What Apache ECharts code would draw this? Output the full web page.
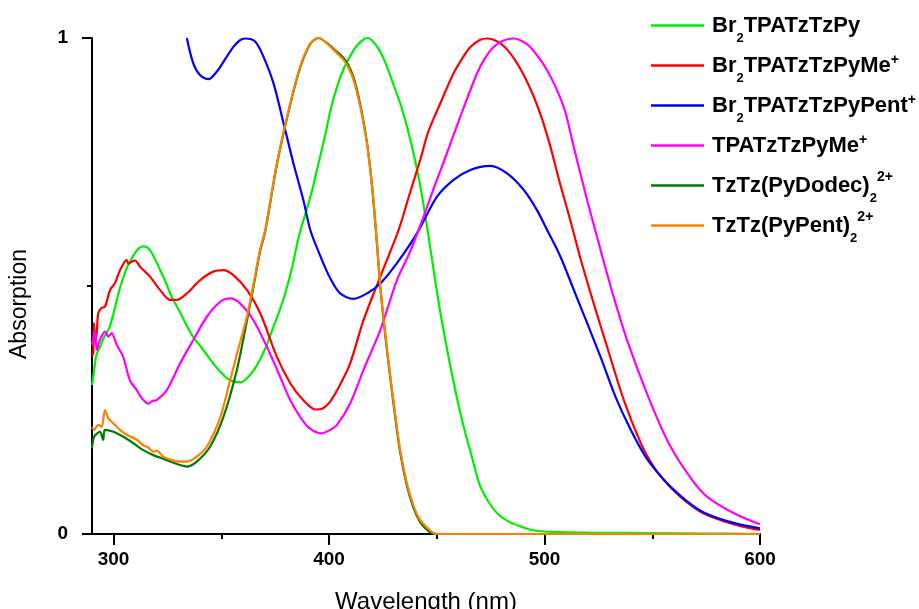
<!DOCTYPE html>
<html>
<head>
<meta charset="utf-8">
<script src="https://cdn.jsdelivr.net/npm/echarts@6/dist/echarts.min.js"></script>
<style>
html, body { margin: 0; padding: 0; background: #fff; }
#chart { width: 919px; height: 609px; }
</style>
</head>
<body>
<div id="chart"></div>
<script>
// Br2TPATzTzPy
var gWl  = [290, 291, 292, 294, 296, 298, 300, 302, 304, 306, 308, 310, 312, 314, 316, 318, 321, 324, 327, 331, 334, 337, 341, 344, 347, 350, 353, 356, 359, 362, 365, 368, 371, 374, 377, 380, 383, 386, 389, 392, 395, 398, 401, 404, 407, 410, 413, 416, 418, 420, 423, 426, 430, 434, 438, 442, 446, 450, 454, 458, 462, 466, 470, 474, 478, 483, 489, 494, 500, 520, 550, 575, 600];
var gAbs = [0.30, 0.33, 0.36, 0.38, 0.40, 0.415, 0.445, 0.48, 0.51, 0.535, 0.552, 0.567, 0.577, 0.58, 0.577, 0.565, 0.538, 0.51, 0.478, 0.446, 0.42, 0.397, 0.375, 0.357, 0.34, 0.325, 0.313, 0.307, 0.306, 0.314, 0.33, 0.352, 0.38, 0.415, 0.45, 0.49, 0.54, 0.6, 0.645, 0.69, 0.745, 0.8, 0.86, 0.905, 0.94, 0.965, 0.985, 0.997, 1.0, 0.995, 0.978, 0.952, 0.905, 0.855, 0.79, 0.71, 0.605, 0.49, 0.39, 0.302, 0.225, 0.16, 0.098, 0.065, 0.042, 0.026, 0.015, 0.008, 0.005, 0.003, 0.002, 0.001, 0];

// Br2TPATzTzPyMe+
var rWl  = [290, 290.6, 290.9, 291.5, 292.2, 292.9, 294.5, 296, 298.4, 300.7, 303, 306.1, 307, 308.4, 310, 312.3, 316.9, 321.6, 326.2, 329.3, 334, 340.2, 346.3, 351, 355.6, 361.9, 368.1, 375.8, 382, 388, 393.6, 397, 400.5, 405, 409.8, 416, 423.8, 432.3, 437, 442.3, 446, 451.6, 457.8, 462, 465.6, 470, 473.3, 476, 479.5, 483, 487.3, 491, 495, 499, 502.7, 507, 512, 516.7, 522.8, 529, 536.8, 545, 550, 555.3, 563.1, 572.4, 581.7, 591, 600];
var rAbs = [0.36, 0.364, 0.425, 0.39, 0.405, 0.445, 0.456, 0.458, 0.492, 0.506, 0.532, 0.552, 0.545, 0.549, 0.551, 0.539, 0.519, 0.492, 0.472, 0.472, 0.485, 0.512, 0.529, 0.532, 0.522, 0.492, 0.445, 0.357, 0.304, 0.27, 0.251, 0.253, 0.267, 0.30, 0.344, 0.431, 0.519, 0.613, 0.68, 0.754, 0.81, 0.868, 0.929, 0.96, 0.982, 0.996, 0.999, 0.997, 0.989, 0.975, 0.949, 0.92, 0.882, 0.835, 0.781, 0.71, 0.632, 0.555, 0.465, 0.378, 0.27, 0.18, 0.14, 0.109, 0.075, 0.045, 0.028, 0.016, 0.008];

// Br2TPATzTzPyPent+
var bWl  = [334, 337, 340.2, 344, 347.9, 351, 355.6, 358.5, 361.1, 365.7, 369.6, 374.2, 378.9, 383.5, 388.1, 391.3, 396, 400.5, 405.2, 411.4, 417.6, 423.8, 431.5, 440.8, 450.1, 457.8, 465.6, 474.9, 482.6, 490.3, 496.5, 501.2, 507.4, 513.6, 519.8, 526, 532.9, 540, 547, 555.3, 563.1, 572.4, 581.7, 591, 600];
var bAbs = [1.0, 0.949, 0.925, 0.917, 0.932, 0.952, 0.982, 0.995, 0.999, 0.993, 0.962, 0.909, 0.828, 0.747, 0.673, 0.613, 0.56, 0.516, 0.485, 0.474, 0.485, 0.505, 0.546, 0.606, 0.68, 0.714, 0.734, 0.742, 0.727, 0.694, 0.653, 0.613, 0.559, 0.492, 0.425, 0.357, 0.277, 0.21, 0.155, 0.11, 0.077, 0.047, 0.03, 0.019, 0.0115];

// TPATzTzPyMe+
var mWl  = [290.1, 291.4, 292.2, 293.7, 296, 297.6, 299.1, 301.5, 304.5, 307.6, 310.8, 313.1, 316.2, 318, 320, 324.7, 330.9, 337, 343.3, 349.5, 354.1, 358.7, 364.9, 371.1, 377.3, 382, 386.6, 391, 396.7, 400.5, 403.7, 409.8, 416, 423.8, 431.5, 437.7, 443.9, 448, 453.2, 460.9, 468.7, 472.5, 476.4, 481, 485.7, 489.5, 493.4, 501.2, 508.9, 513.6, 519.8, 526, 532.1, 538.3, 548.4, 558, 568.5, 575.5, 587.9, 600];
var mAbs = [0.381, 0.411, 0.371, 0.391, 0.408, 0.398, 0.405, 0.381, 0.357, 0.31, 0.29, 0.274, 0.263, 0.268, 0.27, 0.29, 0.344, 0.391, 0.438, 0.468, 0.475, 0.465, 0.431, 0.378, 0.317, 0.27, 0.236, 0.213, 0.203, 0.21, 0.22, 0.263, 0.331, 0.411, 0.512, 0.57, 0.64, 0.69, 0.75, 0.841, 0.929, 0.96, 0.982, 0.995, 0.999, 0.994, 0.982, 0.935, 0.861, 0.78, 0.673, 0.573, 0.478, 0.391, 0.274, 0.18, 0.109, 0.075, 0.042, 0.0195];

// TzTz(PyDodec)2 2+
var dWl  = [290, 291, 293.7, 295.2, 296, 299.9, 304.5, 309.2, 313.8, 318.5, 324.7, 330.9, 334, 338.6, 344.8, 351, 357.2, 361.9, 365, 368, 370.4, 375.8, 382, 386.6, 391.3, 395.1, 399, 403.7, 406.7, 409, 411.4, 413.8, 416, 418, 420, 422, 424, 427, 430, 433, 436, 439, 442, 445, 448, 452, 600];
var dAbs = [0.173, 0.196, 0.206, 0.19, 0.21, 0.206, 0.196, 0.183, 0.169, 0.159, 0.149, 0.139, 0.136, 0.146, 0.176, 0.236, 0.33, 0.43, 0.5, 0.57, 0.61, 0.745, 0.866, 0.94, 0.988, 1.0, 0.99, 0.972, 0.96, 0.945, 0.92, 0.88, 0.832, 0.777, 0.70, 0.598, 0.488, 0.366, 0.26, 0.165, 0.1, 0.055, 0.026, 0.01, 0.001, 0, 0];

// TzTz(PyPent)2 2+
var oWl  = [290, 291, 292.9, 294.5, 296, 297.6, 299.9, 303, 306.1, 310.8, 313.8, 316, 318.5, 320, 323.1, 327.8, 331, 334, 338.6, 343.3, 349.5, 354.1, 358, 361.9, 365, 368, 370.4, 375.8, 382, 386.6, 391.3, 395.1, 399, 403.7, 406.7, 409, 411.4, 413.8, 416, 418, 420, 422, 424, 427, 430, 433, 436, 439, 442, 445.5, 449, 452, 600];
var oAbs = [0.216, 0.21, 0.22, 0.216, 0.25, 0.233, 0.223, 0.21, 0.2, 0.19, 0.179, 0.175, 0.166, 0.168, 0.156, 0.148, 0.146, 0.146, 0.156, 0.176, 0.235, 0.31, 0.375, 0.438, 0.505, 0.573, 0.613, 0.747, 0.868, 0.942, 0.989, 1.0, 0.989, 0.969, 0.956, 0.94, 0.915, 0.875, 0.828, 0.775, 0.70, 0.6, 0.49, 0.37, 0.265, 0.17, 0.105, 0.06, 0.03, 0.013, 0.001, 0, 0];

var names  = ['Br2TPATzTzPy', 'Br2TPATzTzPyMe+', 'Br2TPATzTzPyPent+', 'TPATzTzPyMe+', 'TzTz(PyDodec)2 2+', 'TzTz(PyPent)2 2+'];
// every label carries an {s|...} token so that all legend rows get the same height
var labels = {
    'Br2TPATzTzPy':      '{f|Br}{s|2}{m|TPATzTzPy}',
    'Br2TPATzTzPyMe+':   '{f|Br}{s|2}{m|TPATzTzPyMe}{p|+}',
    'Br2TPATzTzPyPent+': '{f|Br}{s|2}{m|TPATzTzPyPent}{p|+}',
    'TPATzTzPyMe+':      '{f|TPATzTzPyMe}{p|+}{s| }',
    'TzTz(PyDodec)2 2+': '{f|TzTz(PyDodec)}{s|2}{q|2+}',
    'TzTz(PyPent)2 2+':  '{f|TzTz(PyPent)}{s|2}{q|2+}'
};
var colors = ['#00ee00', '#ff0000', '#0000ff', '#ff00ff', '#007a00', '#ff8000'];
var wls  = [gWl, rWl, bWl, mWl, dWl, oWl];
var abss = [gAbs, rAbs, bAbs, mAbs, dAbs, oAbs];

var xMajor = [300, 400, 500, 600];
var xMinor = [350, 450, 550];

function pairs(x, y) {
    return x.map(function (v, i) { return [v, y[i]]; });
}

var font = 'Liberation Sans, Arial, sans-serif';
var myChart = echarts.init(document.getElementById('chart'));
var option = {
    animation: false,
    color: colors,
    grid: { left: 92, right: 159, top: 38, bottom: 75, outerBoundsMode: 'none' },
    legend: {
        orient: 'vertical',
        left: 651,
        top: 6,
        padding: 0,
        itemGap: 1,
        itemWidth: 53,
        itemHeight: 2.5,
        icon: 'rect',
        data: names,
        formatter: function (name) { return labels[name]; },
        textStyle: {
            fontFamily: font,
            rich: {
                f: { fontSize: 22, fontWeight: 'bold', color: '#000', padding: [0, 0, 0, 3], verticalAlign: 'middle', fontFamily: font },
                m: { fontSize: 22, fontWeight: 'bold', color: '#000', verticalAlign: 'middle', fontFamily: font },
                s: { fontSize: 13, fontWeight: 'bold', color: '#000', lineHeight: 13, padding: [26, 0, 0, 0], verticalAlign: 'middle', fontFamily: font },
                p: { fontSize: 14, fontWeight: 'bold', color: '#000', lineHeight: 14, padding: [0, 0, 10, 0], verticalAlign: 'middle', fontFamily: font },
                q: { fontSize: 14, fontWeight: 'bold', color: '#000', lineHeight: 14, padding: [0, 0, 16, 0], verticalAlign: 'middle', fontFamily: font }
            }
        }
    },
    xAxis: [{
        type: 'value',
        min: 290,
        max: 600,
        position: 'bottom',
        name: 'Wavelength (nm)',
        nameLocation: 'middle',
        nameGap: 56,
        nameTextStyle: { fontFamily: font, fontSize: 24, color: '#000' },
        axisLine: { lineStyle: { color: '#000', width: 2 } },
        axisTick: { customValues: xMajor, length: 11, lineStyle: { color: '#000', width: 2 } },
        axisLabel: { customValues: xMajor, margin: 16, fontFamily: font, fontSize: 19, fontWeight: 'bold', color: '#000' },
        splitLine: { show: false }
    }, {
        type: 'value',
        min: 290,
        max: 600,
        position: 'bottom',
        axisLine: { show: false },
        axisTick: { customValues: xMinor, length: 5, lineStyle: { color: '#000', width: 2 } },
        axisLabel: { show: false },
        splitLine: { show: false }
    }],
    yAxis: {
        type: 'value',
        min: 0,
        max: 1,
        interval: 1,
        name: 'Absorption',
        nameLocation: 'middle',
        nameGap: 61,
        nameTextStyle: { fontFamily: font, fontSize: 23, color: '#000', padding: [0, 36, 0, 0] },
        axisLine: { show: true, lineStyle: { color: '#000', width: 2 } },
        axisTick: { show: true, length: 10, lineStyle: { color: '#000', width: 2 } },
        minorTick: { show: true, splitNumber: 2, length: 5, lineStyle: { color: '#000', width: 2 } },
        axisLabel: { margin: 24, fontFamily: font, fontSize: 19, fontWeight: 'bold', color: '#000' },
        splitLine: { show: false }
    },
    series: names.map(function (n, i) {
        return {
            name: n,
            type: 'line',
            data: pairs(wls[i], abss[i]),
            symbol: 'none',
            smooth: 0.3,
            clip: false,
            lineStyle: { width: 2.2, color: colors[i] }
        };
    })
};
myChart.setOption(option);
</script>
</body>
</html>
